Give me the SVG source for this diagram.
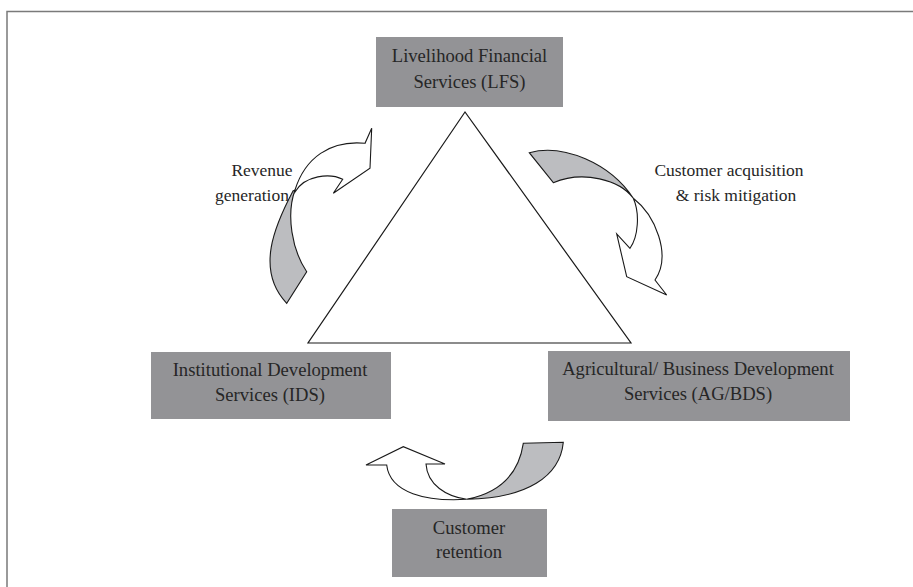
<svg xmlns="http://www.w3.org/2000/svg" width="913" height="587" viewBox="0 0 913 587">
<style>
.box{fill:#939396;stroke:none}
.t{font-family:"Liberation Serif","DejaVu Serif",serif;font-size:18.6px;fill:#262626;text-anchor:middle}
.lbl{font-family:"Liberation Serif","DejaVu Serif",serif;font-size:17.5px;fill:#262626;text-anchor:middle}
.g{fill:#bcbdc0;stroke:#1a1a1a;stroke-width:1.1;stroke-linejoin:miter}
.w{fill:#ffffff;stroke:#1a1a1a;stroke-width:1.1;stroke-linejoin:miter}
</style>
<rect x="0" y="0" width="913" height="587" fill="#ffffff"/>
<path d="M7,600 L7,11.5 L920,11.5" fill="none" stroke="#7a7a7a" stroke-width="1.5"/>
<g id="triangle">
<polygon points="465,112 308,343 631,343" fill="#ffffff" stroke="#1a1a1a" stroke-width="1.2"/>
</g>
<g id="lfs">
<rect class="box" x="376" y="37" width="187" height="70"/>
<text class="t" x="469.5" y="62">Livelihood Financial</text>
<text class="t" x="469.5" y="88">Services (LFS)</text>
</g>
<g id="ids">
<rect class="box" x="151" y="352" width="240" height="67"/>
<text class="t" x="270" y="376">Institutional Development</text>
<text class="t" x="270" y="401">Services (IDS)</text>
</g>
<g id="agbds">
<rect class="box" x="548" y="351" width="302" height="70"/>
<text class="t" x="698" y="375">Agricultural/ Business Development</text>
<text class="t" x="698" y="400">Services (AG/BDS)</text>
</g>
<g id="retention">
<rect class="box" x="392" y="509" width="155" height="68"/>
<text class="t" x="469" y="534">Customer</text>
<text class="t" x="469" y="558">retention</text>
</g>
<g id="connectors">
<g id="arrow-revenue">
<path class="g" d="M293,191 C275,225 255,270 286.7,303.3 L306.7,271.7 C292,250 286,215 295,190 Z"/>
<path class="w" d="M295,190 C305,158 330,140 365,143.3 L371.7,128.3 L370,168.3 L333.3,193.3 L342.7,179.3 C330,173 305,175 295,192 Z"/>
</g>
<g id="arrow-acquisition">
<path class="g" d="M529.3,152.7 C563.3,143.3 610,163.3 633.3,198.3 C620,180 583.3,170 553.3,182.7 Z"/>
<path class="w" d="M633.3,198.3 C655,215 672,255 655,280 L666.7,295 L626.7,276.7 L616.7,234 L630,248.3 C638.3,236.7 640,213.3 633.3,198.3 Z"/>
</g>
<g id="arrow-retention">
<path class="w" d="M466.7,499.3 C426.7,501.7 390,493.3 386.7,465 L366,465 L403.3,446.7 L445,464 L426,464 C427.3,485 446.7,496.7 466.7,499.3 Z"/>
<path class="g" d="M523.3,443.3 L563.3,442.3 C560,476.7 526.7,498.3 466.7,499.3 C496.7,493.3 518.3,476.7 523.3,443.3 Z"/>
</g>
</g>
<g id="labels">
<text class="lbl" x="262" y="176">Revenue</text>
<text class="lbl" x="252" y="201">generation</text>
<text class="lbl" x="729" y="176">Customer acquisition</text>
<text class="lbl" x="736" y="201">&amp; risk mitigation</text>
</g>
</svg>
